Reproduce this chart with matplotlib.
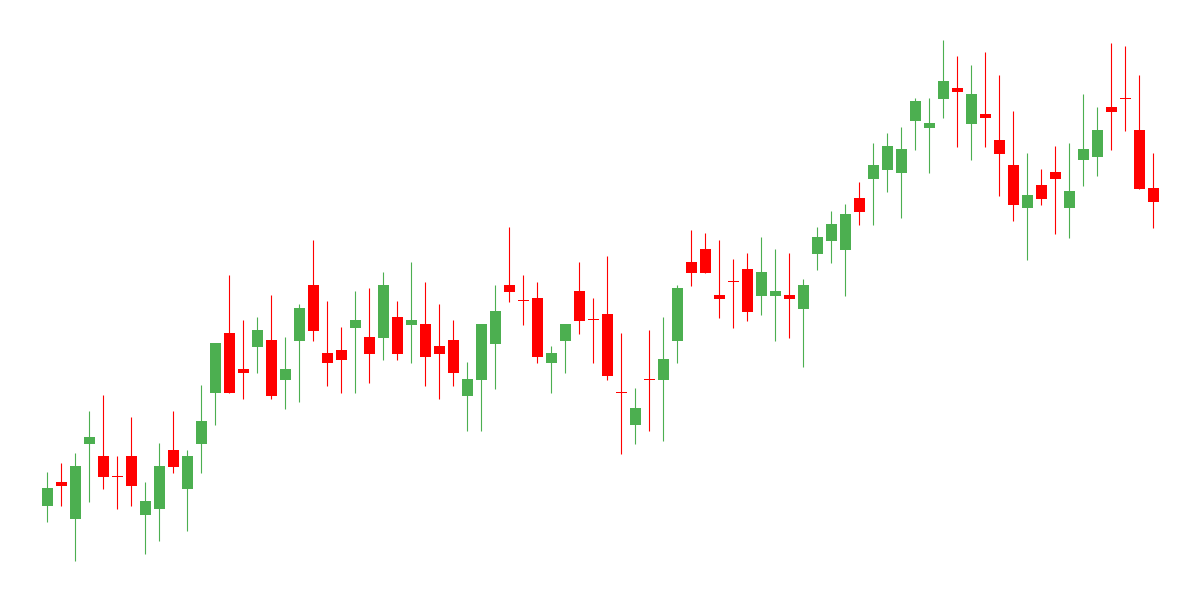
import matplotlib
matplotlib.use("Agg")
import matplotlib.pyplot as plt
import numpy as np

## OHLC DATA (price units)
opens = [94.3, 118, 81.3, 156.3, 144, 124, 144, 85.3, 91.3, 150,
         111.3, 156.3, 207.3, 267, 231, 253.3, 260, 220.3, 259.3, 315,
         247, 250, 272.3, 263, 262.3, 283, 275.3, 276, 254, 260,
         204.3, 220.3, 256.3, 315, 299.5, 302, 237.3, 259.3, 309, 280.5,
         286, 208, 175.3, 221, 220.3, 259.3, 338, 351, 305, 318.5,
         331, 304.3, 304.3, 305, 291.3, 346.3, 359.3, 350.3, 402, 421.3,
         430.3, 427.3, 479.3, 472.3, 501.3, 512, 476.3, 486, 460, 435,
         392.3, 415, 428, 392.3, 440.3, 443.3, 493, 502, 470, 412]
highs = [128, 137, 147, 189, 205, 144, 183, 118, 157, 189,
         150, 215, 257, 325, 280, 283, 305, 263, 296, 360,
         299, 273, 309, 312, 328, 299, 338, 318, 296, 280,
         238, 276, 315, 373, 325, 318, 254, 276, 338, 302,
         344, 267, 212, 270, 283, 315, 370, 367, 360, 341,
         347, 363, 351, 347, 321, 373, 389, 396, 418, 457,
         467, 473, 502, 502, 560, 544, 535, 548, 525, 489,
         447, 431, 454, 457, 506, 493, 557, 554, 525, 447]
lows = [78.3, 94.3, 39.3, 98.3, 111.3, 91.3, 94.3, 46.3, 59.3, 127.3,
        69.3, 127.3, 175.3, 207.3, 201.3, 227.3, 201.3, 191.3, 198.3, 259.3,
        214.3, 207.3, 207.3, 217.3, 240.3, 240.3, 237.3, 214.3, 201.3, 214.3,
        169.3, 169.3, 211.3, 298.3, 275.3, 237.3, 207.3, 227.3, 266.3, 237.3,
        220.3, 146.3, 156.3, 169.3, 159.3, 237.3, 314.3, 327.3, 282.3, 272.3,
        279.3, 285.3, 259.3, 262.3, 233.3, 330.3, 337.3, 304.3, 375.3, 375.3,
        408.3, 382.3, 450.3, 427.3, 482.3, 453.3, 440.3, 453.3, 404.3, 379.3,
        340.3, 395.3, 366.3, 362.3, 414.3, 424.3, 450.3, 469.3, 411.3, 372.3]
closes = [112, 114, 134, 163, 123.3, 123.5, 114.3, 99, 134, 133.3,
          144, 179, 257, 207.3, 227.3, 270, 204.3, 231, 292, 269.3,
          237.3, 240.3, 280, 246.3, 315, 246.3, 280, 243.3, 246.3, 227.3,
          221, 276, 289, 308.3, 299, 243.3, 247, 276, 279.3, 280,
          224.3, 207.5, 192, 220.5, 241, 312, 327.3, 327.3, 301.3, 318,
          288.3, 328, 309, 301.3, 315, 363, 376, 386, 388.3, 435,
          454, 451, 499, 477, 519, 508.3, 506, 482.3, 446.3, 395.3,
          405, 401.3, 421.3, 409, 451, 470, 488.3, 501.5, 411.3, 398.3]

up_color = '#4caf50'
down_color = '#ff0000'

o = np.array(opens)
h = np.array(highs)
l = np.array(lows)
c = np.array(closes)
x = np.arange(len(o))
colors = [up_color if cc >= oo else down_color for oo, cc in zip(o, c)]

body_bottom = np.minimum(o, c)
body_height = np.maximum(np.abs(c - o), 1.0)

fig = plt.figure(figsize=(12, 6), dpi=100)
ax = fig.add_axes([0, 0, 1, 1])

# wicks then bodies
ax.vlines(x, l, h, colors=colors, linewidth=0.8, zorder=1)
ax.bar(x, body_height, bottom=body_bottom, width=0.78, color=colors,
       linewidth=0, zorder=2)

ax.set_xlim(-47.3 / 14, (1200 - 47.3) / 14)
ax.set_ylim(0, 600)
ax.axis('off')

fig.savefig('out.png', dpi=100, facecolor='white')
